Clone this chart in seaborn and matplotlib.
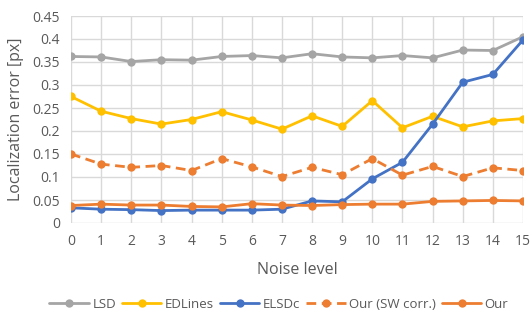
import matplotlib
matplotlib.use("Agg")
import matplotlib.pyplot as plt
import numpy as np
import pandas as pd
import seaborn as sns

noise_level = list(range(16))
lsd = [0.362, 0.361, 0.351, 0.355, 0.354, 0.362, 0.364, 0.359, 0.368, 0.361, 0.359, 0.364, 0.359, 0.376, 0.375, 0.405]
edlines = [0.275, 0.243, 0.227, 0.215, 0.225, 0.242, 0.224, 0.204, 0.233, 0.210, 0.266, 0.207, 0.232, 0.209, 0.222, 0.227]
elsdc = [0.033, 0.030, 0.029, 0.027, 0.028, 0.028, 0.028, 0.030, 0.048, 0.046, 0.096, 0.132, 0.215, 0.306, 0.323, 0.398]
our_sw = [0.150, 0.128, 0.121, 0.125, 0.114, 0.140, 0.122, 0.101, 0.121, 0.105, 0.140, 0.104, 0.123, 0.101, 0.120, 0.114]
our = [0.038, 0.041, 0.039, 0.039, 0.036, 0.035, 0.042, 0.039, 0.038, 0.040, 0.041, 0.041, 0.047, 0.048, 0.049, 0.048]

series_names = ["LSD", "EDLines", "ELSDc", "Our (SW corr.)", "Our"]
series_values = [lsd, edlines, elsdc, our_sw, our]
colors = ["#A5A5A5", "#FFC000", "#4472C4", "#ED7D31", "#ED7D31"]
dashed = [False, False, False, True, False]

sns.set_style("white")
plt.rcParams['font.family'] = ['Open Sans', 'DejaVu Sans']
text_col = "#595959"

df = pd.DataFrame({"Noise level": noise_level})

fig = plt.figure(figsize=(5.32, 3.21), dpi=100)
ax = fig.add_axes([71 / 532, 1 - 223 / 321, 452 / 532, 207 / 321])

for name, vals, col, d in zip(series_names, series_values, colors, dashed):
    df[name] = vals
    sns.lineplot(data=df, x="Noise level", y=name, ax=ax, color=col, marker="o",
                 markersize=6, markeredgewidth=0, linewidth=2,
                 linestyle=(0, (3.5, 2)) if d else "-", label=name)

ax.set_xlim(0, 15)
ax.set_ylim(0, 0.45)
ax.set_xticks(noise_level)
yt = np.arange(0, 0.451, 0.05)
ax.set_yticks(yt)
ax.set_yticklabels(["0"] + [("%.2f" % v).rstrip("0").rstrip(".") for v in yt[1:]])
ax.grid(True, color="#D9D9D9", linewidth=1)
for s in ax.spines.values():
    s.set_visible(False)
ax.tick_params(axis="both", length=0, labelsize=10, colors=text_col, pad=8)
ax.set_xlabel("Noise level", fontsize=11.5, color=text_col, labelpad=9)
ax.set_ylabel("Localization error [px]", fontsize=11.5, color=text_col, labelpad=6)

ax.legend(loc="upper center", bbox_to_anchor=(0.46, -0.305), ncol=5, frameon=False,
          fontsize=9.5, handlelength=3.0, columnspacing=0.45, handletextpad=0.25,
          labelcolor=text_col)

fig.savefig("out.png", dpi=100)
